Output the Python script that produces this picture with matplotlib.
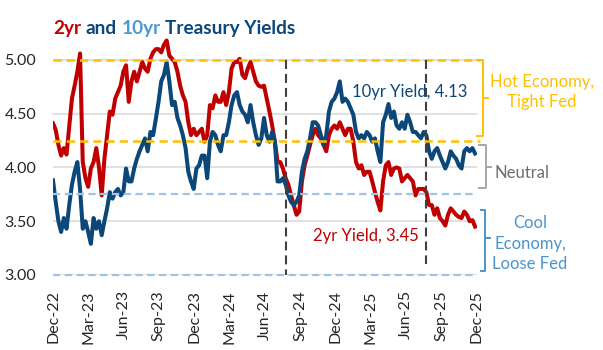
import matplotlib
matplotlib.use("Agg")
import matplotlib.pyplot as plt
import matplotlib.dates as mdates
import matplotlib.transforms as mtransforms
import pandas as pd

# weekly readings, starting 30 Dec 2022
two_yr = [4.41, 4.35, 4.21, 4.11, 4.18, 4.12, 4.38, 4.64, 4.76, 4.89,
          5.06, 4.05, 3.90, 3.82, 3.99, 4.05, 4.18, 4.00, 3.74, 4.08,
          4.30, 4.52, 4.49, 4.64, 4.70, 4.76, 4.89, 4.95, 4.61, 4.80,
          4.89, 4.80, 4.89, 4.98, 4.92, 4.89, 5.01, 5.07, 5.10, 5.10,
          5.07, 5.14, 5.18, 5.04, 5.01, 4.98, 4.89, 4.76, 4.67, 4.61,
          4.42, 4.30, 4.36, 4.30, 4.33, 4.36, 4.24, 4.30, 4.58, 4.55,
          4.67, 4.61, 4.61, 4.70, 4.58, 4.70, 4.92, 4.98, 4.98, 5.01,
          4.86, 4.83, 4.92, 4.98, 4.89, 4.80, 4.76, 4.75, 4.76, 4.64,
          4.52, 4.39, 4.24, 4.05, 4.05, 3.99, 3.90, 3.84, 3.74, 3.65,
          3.56, 3.59, 3.87, 4.02, 4.11, 4.21, 4.30, 4.36, 4.30, 4.27,
          4.21, 4.15, 4.30, 4.36, 4.39, 4.36, 4.42, 4.36, 4.30, 4.36,
          4.36, 4.24, 4.05, 3.99, 4.02, 3.93, 3.96, 3.96, 3.87, 3.77,
          3.68, 3.60, 3.87, 4.02, 4.05, 3.93, 3.99, 4.00, 3.99, 3.87,
          3.90, 3.93, 3.90, 3.87, 3.74, 3.80, 3.80, 3.80, 3.77, 3.65,
          3.65, 3.56, 3.62, 3.53, 3.50, 3.46, 3.56, 3.62, 3.59, 3.56,
          3.54, 3.53, 3.59, 3.56, 3.50, 3.51, 3.45]

ten_yr = [3.88, 3.68, 3.50, 3.40, 3.53, 3.43, 3.65, 3.84, 3.96, 4.05,
          3.80, 3.43, 3.50, 3.40, 3.29, 3.53, 3.43, 3.50, 3.37, 3.50,
          3.62, 3.77, 3.71, 3.77, 3.80, 3.74, 3.77, 3.99, 3.87, 3.87,
          3.99, 4.08, 4.15, 4.21, 4.27, 4.15, 4.33, 4.30, 4.45, 4.61,
          4.80, 4.86, 4.98, 4.80, 4.58, 4.61, 4.46, 4.39, 4.30, 4.18,
          3.96, 3.87, 3.80, 3.99, 4.02, 4.11, 4.11, 3.90, 4.24, 4.33,
          4.30, 4.21, 4.15, 4.30, 4.30, 4.42, 4.58, 4.67, 4.70, 4.58,
          4.52, 4.49, 4.42, 4.58, 4.42, 4.30, 4.21, 4.27, 4.46, 4.30,
          4.24, 4.33, 4.24, 3.87, 3.87, 3.90, 3.84, 3.74, 3.68, 3.65,
          3.68, 3.74, 3.96, 4.08, 4.15, 4.27, 4.42, 4.42, 4.39, 4.30,
          4.21, 4.30, 4.52, 4.61, 4.64, 4.70, 4.80, 4.61, 4.64, 4.61,
          4.55, 4.49, 4.33, 4.27, 4.30, 4.27, 4.33, 4.30, 4.24, 4.27,
          4.15, 4.05, 4.42, 4.49, 4.59, 4.46, 4.52, 4.39, 4.36, 4.42,
          4.36, 4.49, 4.42, 4.33, 4.33, 4.30, 4.27, 4.33, 4.30, 4.15,
          4.08, 4.15, 4.18, 4.11, 4.05, 3.99, 4.05, 4.15, 4.11, 4.08,
          4.02, 3.99, 4.15, 4.18, 4.15, 4.18, 4.13]

dates = pd.date_range("2022-12-30", periods=len(two_yr), freq="7D")

hot_band = (4.25, 5.00)
cool_band = (3.00, 3.75)
events = pd.to_datetime(["2024-08-23", "2025-08-22"])
event_bottom = [3.00, 3.10]

RED = "#C00000"
NAVY = "#0B4779"
LIGHT = "#4C9BD0"
GOLD = "#FFC000"
PALE = "#9DC3E6"
GREY = "#A6A6A6"

plt.rcParams["font.family"] = ["Lato", "DejaVu Sans"]

W, H = 603, 350
fig = plt.figure(figsize=(W / 100, H / 100), dpi=100)
ax = fig.add_axes([53 / W, 1 - 275 / H, 424 / W, 242 / H])

ax.plot(dates, two_yr, color=RED, lw=2.9, solid_joinstyle="round", zorder=3)
ax.plot(dates, ten_yr, color=NAVY, lw=2.9, solid_joinstyle="round", zorder=4)

ax.set_ylim(3.0, 5.25)
ax.set_xlim(pd.Timestamp("2022-12-30"), pd.Timestamp("2025-12-30"))
ax.set_yticks([3.0, 3.5, 4.0, 4.5, 5.0])
ax.set_yticklabels(["3.00", "3.50", "4.00", "4.50", "5.00"])
ticks = pd.date_range("2022-12-01", "2025-12-31", freq="3ME")
ax.set_xticks(ticks)
ax.xaxis.set_major_formatter(mdates.DateFormatter("%b-%y"))
for lab in ax.get_xticklabels():
    lab.set_rotation(90)
ax.tick_params(length=0, labelsize=11.5, colors="#262626")
ax.tick_params(axis="y", pad=12)
ax.tick_params(axis="x", pad=11)
ax.grid(axis="y", color="#D9D9D9", lw=1.1, zorder=0)
ax.set_axisbelow(True)
for s in ax.spines.values():
    s.set_visible(False)

# reference lines, running a little past the plot on the right
ref = mtransforms.blended_transform_factory(ax.transAxes, ax.transData)
for y in hot_band:
    ax.plot([0, 1.008], [y, y], transform=ref, color=GOLD, lw=1.8,
            dashes=(3.3, 2), clip_on=False, zorder=5)
for y in cool_band:
    ax.plot([0, 1.0], [y, y], transform=ref, color=PALE, lw=1.6,
            dashes=(3.3, 2), clip_on=False, zorder=5)
for d, yb in zip(events, event_bottom):
    ax.plot([d, d], [5.0, yb], color="#404040", lw=1.5, dashes=(4.3, 2.4),
            zorder=6)


def fx(px):
    return (px - 53) / 424


def bracket(x, top, bot, mid, color, end=6, tick=5):
    kw = dict(transform=ref, color=color, lw=1.4, clip_on=False)
    ax.plot([fx(x - end), fx(x), fx(x), fx(x - end)], [top, top, bot, bot], **kw)
    ax.plot([fx(x), fx(x + tick)], [mid, mid], **kw)


bracket(483, 5.00, 4.29, 4.65, GOLD)
bracket(486, 4.21, 3.81, 4.00, GREY, end=7)
bracket(485, 3.60, 3.04, 3.34, "#4A95CC", end=4)

ax.text(fx(352), 4.70, "10yr Yield, 4.13", transform=ref, color=NAVY,
        fontsize=12, va="center", ha="left", zorder=2)
ax.text(fx(313), 3.36, "2yr Yield, 3.45", transform=ref, color=RED,
        fontsize=12, va="center", ha="left", zorder=2)
ax.text(fx(542), 4.70, "Hot Economy,\nTight Fed", transform=ref, color=GOLD,
        fontsize=12, va="center", ha="center", linespacing=1.3, clip_on=False)
ax.text(fx(494), 3.95, "Neutral", transform=ref, color="#6E6E6E",
        fontsize=12, va="center", ha="left", clip_on=False)
ax.text(fx(530), 3.29, "Cool\nEconomy,\nLoose Fed", transform=ref,
        color="#4A95CC", fontsize=12, va="center", ha="center",
        linespacing=1.35, clip_on=False)

# multi-coloured title
title_parts = [("2yr", RED), ("and", NAVY), ("10yr", LIGHT), ("Treasury Yields", NAVY)]
TS = 13.7
fig.canvas.draw()
r = fig.canvas.get_renderer()
tw = lambda s: fig.text(0, 0, s, fontsize=TS, fontweight="bold").get_window_extent(r).width
gap = tw("n n") - tw("nn")
for t in fig.texts[:]:
    t.remove()
x = 53
for s, c in title_parts:
    t = fig.text(x / W, 1 - 34 / H, s, color=c, fontsize=TS, fontweight="bold",
                 va="baseline", ha="left")
    x = t.get_window_extent(r).x1 + gap

fig.savefig("out.png", dpi=100)
